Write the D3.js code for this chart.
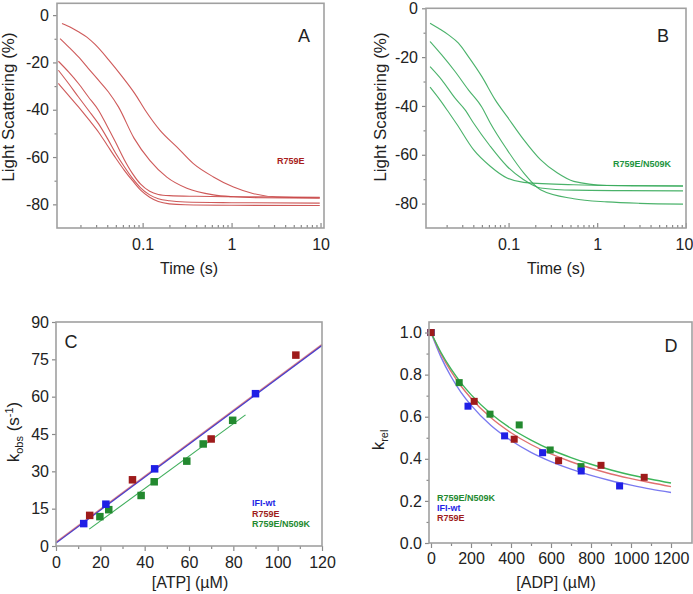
<!DOCTYPE html>
<html>
<head>
    <script src="https://cdn.jsdelivr.net/npm/d3@7"></script>
    <style>
        html, body {
            padding: 0;
            margin: 0;
            background: #fff;
        }
        text {
            font-family: "Liberation Sans", Arial, sans-serif;
        }
    </style>
</head>
<body>
<script>
    var width = 693, height = 594;

    // ---- data: panel A, light scattering traces of R759E (time s, %) ----
    var traceA1 = [[0.0124,-3.5],[0.016,-5.4],[0.019,-7],[0.0236,-9.3],[0.0292,-12.4],[0.0413,-18.8],[0.0583,-25.8],[0.0824,-33.4],[0.107,-40.2],[0.157,-48.7],[0.242,-55.7],[0.372,-62.8],[0.625,-68.4],[1.05,-72.7],[1.77,-75.5],[3.2,-76.9],[9.8,-77.2]];
    var traceA2 = [[0.0118,-9.9],[0.0147,-13.4],[0.019,-17.7],[0.0246,-22.6],[0.0319,-27.5],[0.0413,-32.5],[0.0535,-38.8],[0.08,-52],[0.121,-61.5],[0.187,-68.5],[0.314,-73.2],[0.625,-76],[1.05,-76.8],[2,-77.2],[9.8,-77.4]];
    var traceA3 = [[0.0113,-19.5],[0.0147,-24],[0.019,-28.9],[0.0246,-34.6],[0.0319,-40.2],[0.04,-47],[0.05,-54],[0.062,-61],[0.077,-67],[0.095,-71.5],[0.12,-74.5],[0.15,-75.8],[0.2,-76.3],[0.4,-76.6],[1,-76.8],[9.8,-77]];
    var traceA4 = [[0.0113,-23.3],[0.0147,-28.9],[0.019,-34.6],[0.0246,-40.2],[0.032,-46],[0.04,-52],[0.05,-58.5],[0.062,-64],[0.077,-69],[0.095,-73],[0.12,-76],[0.15,-77.6],[0.2,-78.5],[0.3,-79],[1,-79.3],[9.8,-79.5]];
    var traceA5 = [[0.0113,-28.9],[0.0147,-33.9],[0.019,-38.8],[0.0246,-44],[0.032,-49.5],[0.04,-55],[0.05,-60.5],[0.062,-65.5],[0.077,-70],[0.095,-74],[0.12,-77],[0.15,-78.8],[0.2,-79.8],[0.3,-80.2],[1,-80.4],[9.8,-80.5]];

    // ---- data: panel B, light scattering traces of R759E/N509K ----
    var traceB1 = [[0.013,-6.1],[0.0162,-8.2],[0.021,-10.9],[0.0272,-14.3],[0.0352,-19.8],[0.05,-28],[0.0707,-37.5],[0.096,-44.3],[0.148,-53.8],[0.229,-62],[0.353,-67.4],[0.544,-70.9],[1.29,-72.6],[3,-72.8],[9.3,-72.9]];
    var traceB2 = [[0.013,-13.6],[0.0176,-19.1],[0.0249,-25.9],[0.0352,-33.4],[0.05,-40.5],[0.0621,-47],[0.096,-57.9],[0.148,-67.4],[0.229,-74.3],[0.544,-78],[1.29,-79.3],[3,-79.9],[9.3,-80.2]];
    var traceB3 = [[0.013,-23.9],[0.0176,-29.3],[0.0249,-36.8],[0.0323,-41.6],[0.0402,-47],[0.0621,-56.5],[0.096,-64.7],[0.148,-70.2],[0.229,-73.6],[0.544,-74.5],[2,-74.7],[9.3,-74.8]];
    var traceB4 = [[0.013,-32.3],[0.0168,-37.5],[0.021,-42.5],[0.0261,-47.5],[0.0402,-57.9],[0.0621,-64.7],[0.096,-69.5],[0.148,-71.3],[0.544,-72.3],[2,-72.6],[9.3,-72.7]];

    var timeTicks = [0.1, 1, 10];
    var timeMinor = [0.02,0.03,0.04,0.05,0.06,0.07,0.08,0.09,0.2,0.3,0.4,0.5,0.6,0.7,0.8,0.9,2,3,4,5,6,7,8,9];
    var scatTicks = [0, -20, -40, -60, -80];
    var scatMinor = [-10, -30, -50, -70];

    // ---- data: panel C, kobs vs [ATP] ----
    var atpWt = [12.5, 22.5, 44.5, 90];
    var kobsWt = [9, 16.8, 31, 61.2];
    var atpR = [15.2, 34.5, 70, 108.2];
    var kobsR = [12.3, 26.6, 43, 76.7];
    var atpRN = [19.8, 23.8, 38.4, 44.3, 59, 66.4, 79.7];
    var kobsRN = [11.8, 14.6, 20.3, 25.8, 34.1, 41, 50.5];
    var fitWt = [[0, 1.2], [120, 80.6]];
    var fitR = [[0, 1.6], [120, 81.1]];
    var fitRN = [[15, 6.8], [85.5, 52.7]];
    var atpTicks = [0, 20, 40, 60, 80, 100, 120];
    var atpMinor = [10, 30, 50, 70, 90, 110];
    var kobsTicks = [0, 15, 30, 45, 60, 75, 90];

    // ---- data: panel D, krel vs [ADP] ----
    var adpWt = [0, 185, 368, 558, 751, 943];
    var krelWt = [1.0, 0.650, 0.509, 0.429, 0.342, 0.271];
    var adpR = [0, 216, 416, 638, 850, 1066];
    var krelR = [1.0, 0.673, 0.493, 0.391, 0.369, 0.312];
    var adpRN = [0, 141, 295, 441, 596, 750];
    var krelRN = [1.0, 0.762, 0.612, 0.561, 0.442, 0.363];
    var curveAdp = [0, 50, 100, 150, 200, 300, 400, 500, 600, 700, 800, 900, 1000, 1100, 1200];
    var curveWt = [1, 0.883, 0.791, 0.716, 0.655, 0.558, 0.487, 0.431, 0.387, 0.351, 0.321, 0.296, 0.275, 0.256, 0.240];
    var curveR = [1, 0.898, 0.815, 0.746, 0.688, 0.595, 0.524, 0.468, 0.423, 0.386, 0.355, 0.328, 0.306, 0.286, 0.268];
    var curveRN = [1, 0.905, 0.827, 0.761, 0.705, 0.614, 0.544, 0.489, 0.443, 0.406, 0.374, 0.347, 0.323, 0.303, 0.285];
    var adpTicks = [0, 200, 400, 600, 800, 1000, 1200];
    var adpMinor = [100, 300, 500, 700, 900, 1100];
    var krelTicks = [0, 0.2, 0.4, 0.6, 0.8, 1.0];
    var krelMinor = [0.1, 0.3, 0.5, 0.7, 0.9];

    var colWt = "#1f1fe6", colR = "#9e1b1b", colRN = "#23892f";

    var svg = d3.select('body').append('svg')
        .attr('width', width)
        .attr('height', height)
        .style('background-color', 'white');

    // draws frame + major/minor ticks for one panel
    function panelAxes(x, y, o) {
        var x0 = x.range()[0], x1 = x.range()[1];
        var y0 = y.range()[0], y1 = y.range()[1];
        var g = svg.append("g");

        var xa = g.append("g").attr("transform", "translate(0," + y0 + ")")
            .call(d3.axisBottom(x).tickValues(o.xTicks).tickFormat(o.xFmt || String)
                .tickSize(o.xIn ? -5 : 5).tickPadding(o.xPad));
        if (o.xMinor) {
            g.append("g").attr("transform", "translate(0," + y0 + ")")
                .call(d3.axisBottom(x).tickValues(o.xMinor).tickFormat("").tickSize(o.xIn ? -3 : 3));
        }
        var ya = g.append("g").attr("transform", "translate(" + x0 + ",0)")
            .call(d3.axisLeft(y).tickValues(o.yTicks).tickFormat(o.yFmt || String)
                .tickSize(4).tickPadding(o.yPad));
        if (o.yMinor) {
            g.append("g").attr("transform", "translate(" + x0 + ",0)")
                .call(d3.axisLeft(y).tickValues(o.yMinor).tickFormat("").tickSize(2.5));
        }
        g.selectAll(".domain").remove();
        g.selectAll(".tick line").attr("stroke", "#8a8a8a").attr("stroke-width", 1.2);
        g.selectAll(".tick text").attr("fill", "#222").style("font-size", "16px")
            .style("font-family", '"Liberation Sans", Arial, sans-serif');

        g.append("rect")
            .attr("x", x0).attr("y", y1)
            .attr("width", x1 - x0).attr("height", y0 - y1)
            .attr("fill", "none")
            .attr("stroke", "#a0a0a0")
            .attr("stroke-width", 1.6);
        return xa;
    }

    function label(x, y, txt, size, rot, color, weight) {
        return svg.append("text")
            .attr("transform", "translate(" + x + "," + y + ")" + (rot ? " rotate(-90)" : ""))
            .attr("text-anchor", "middle")
            .attr("fill", color || "#222")
            .style("font-size", size + "px")
            .style("font-weight", weight || "normal")
            .text(txt);
    }

    function traces(list, x, y, color) {
        var line = d3.line()
            .x(function (d) { return x(d[0]); })
            .y(function (d) { return y(d[1]); })
            .curve(d3.curveMonotoneX);
        list.forEach(function (tr) {
            svg.append("path")
                .datum(tr)
                .attr("d", line)
                .attr("fill", "none")
                .attr("stroke", color)
                .attr("stroke-width", 1.1)
                .attr("stroke-opacity", 0.9);
        });
    }

    function squares(xs, ys, x, y, color, size) {
        svg.append("g").selectAll("rect")
            .data(xs.map(function (v, i) { return [v, ys[i]]; }))
            .join("rect")
            .attr("x", function (d) { return x(d[0]) - size / 2; })
            .attr("y", function (d) { return y(d[1]) - size / 2; })
            .attr("width", size)
            .attr("height", size)
            .attr("fill", color);
    }

    // ================= panel A =================
    var xA = d3.scaleLog().domain([0.0109, 10.94]).range([57, 324]);
    var yA = d3.scaleLinear().domain([-90, 5]).range([228, 3.3]);
    traces([traceA1, traceA2, traceA3, traceA4, traceA5], xA, yA, "#c94747");
    panelAxes(xA, yA, {xTicks: timeTicks, xMinor: timeMinor, xIn: true, xPad: 11,
        yTicks: scatTicks, yMinor: scatMinor, yPad: 4});
    label(8.5, 107, "Light Scattering (%)", 17, true).attr("dominant-baseline", "central");
    label(189, 274, "Time (s)", 16);
    label(304, 42, "A", 18);
    svg.append("text").attr("x", 277).attr("y", 164).attr("fill", "#a81c1c")
        .style("font-size", "9px").style("font-weight", "bold").text("R759E");

    // ================= panel B =================
    var xB = d3.scaleLog().domain([0.0117, 10.05]).range([426, 686]);
    var yB = d3.scaleLinear().domain([-90, 0]).range([228, 8.3]);
    traces([traceB1, traceB2, traceB3, traceB4], xB, yB, "#36aa5a");
    var xaB = panelAxes(xB, yB, {xTicks: timeTicks, xMinor: timeMinor, xIn: true, xPad: 11,
        yTicks: scatTicks, yMinor: scatMinor, yPad: 4});
    // last label sits at the page edge: keep it inside
    xaB.selectAll(".tick text").filter(function (d) { return d === 10; })
        .attr("text-anchor", "end").attr("x", 7);
    label(380, 107, "Light Scattering (%)", 17, true).attr("dominant-baseline", "central");
    label(556, 274, "Time (s)", 16);
    label(663, 42, "B", 18);
    svg.append("text").attr("x", 613).attr("y", 167).attr("fill", "#1e9440")
        .style("font-size", "9px").style("font-weight", "bold").text("R759E/N509K");

    // ================= panel C =================
    var xC = d3.scaleLinear().domain([0, 120]).range([56, 322]);
    var yC = d3.scaleLinear().domain([0, 90]).range([546, 322]);
    var fitLine = d3.line()
        .x(function (d) { return xC(d[0]); })
        .y(function (d) { return yC(d[1]); });
    svg.append("path").datum(fitWt).attr("d", fitLine).attr("fill", "none")
        .attr("stroke", "#4040d8").attr("stroke-width", 1.4);
    svg.append("path").datum(fitR).attr("d", fitLine).attr("fill", "none")
        .attr("stroke", "#c04050").attr("stroke-width", 1.2).attr("stroke-opacity", 0.6);
    svg.append("path").datum(fitRN).attr("d", fitLine).attr("fill", "none")
        .attr("stroke", "#3fae5c").attr("stroke-width", 1.1);
    squares(atpRN, kobsRN, xC, yC, colRN, 7.5);
    squares(atpWt, kobsWt, xC, yC, colWt, 7.5);
    squares(atpR, kobsR, xC, yC, colR, 7.5);
    panelAxes(xC, yC, {xTicks: atpTicks, xMinor: atpMinor, xIn: false, xPad: 6,
        yTicks: kobsTicks, yPad: 3});
    var kobs = svg.append("text")
        .attr("transform", "translate(19,432) rotate(-90)")
        .attr("text-anchor", "middle")
        .attr("fill", "#222")
        .style("font-size", "17px");
    kobs.append("tspan").text("k");
    kobs.append("tspan").attr("dy", 4).style("font-size", "11px").text("obs");
    kobs.append("tspan").attr("dy", -4).text(" (s");
    kobs.append("tspan").attr("dy", -6).style("font-size", "11px").text("-1");
    kobs.append("tspan").attr("dy", 6).text(")");
    label(190, 588, "[ATP] (\u00b5M)", 16);
    label(71, 348, "C", 18);
    svg.append("text").attr("x", 252).attr("y", 506).attr("fill", colWt)
        .style("font-size", "9px").style("font-weight", "bold").text("IFI-wt");
    svg.append("text").attr("x", 252).attr("y", 516.5).attr("fill", colR)
        .style("font-size", "9px").style("font-weight", "bold").text("R759E");
    svg.append("text").attr("x", 252).attr("y", 527).attr("fill", colRN)
        .style("font-size", "9px").style("font-weight", "bold").text("R759E/N509K");

    // ================= panel D =================
    var xD = d3.scaleLinear().domain([-10, 1305]).range([429, 692]);
    var yD = d3.scaleLinear().domain([0, 1.05]).range([543, 322]);
    var fitCurve = d3.line()
        .x(function (d) { return xD(d[0]); })
        .y(function (d) { return yD(d[1]); })
        .curve(d3.curveMonotoneX);
    function pairs(xs, ys) { return xs.map(function (v, i) { return [v, ys[i]]; }); }
    svg.append("path").datum(pairs(curveAdp, curveWt)).attr("d", fitCurve).attr("fill", "none")
        .attr("stroke", "#7a7af0").attr("stroke-width", 1.4);
    svg.append("path").datum(pairs(curveAdp, curveR)).attr("d", fitCurve).attr("fill", "none")
        .attr("stroke", "#e07070").attr("stroke-width", 1.4);
    svg.append("path").datum(pairs(curveAdp, curveRN)).attr("d", fitCurve).attr("fill", "none")
        .attr("stroke", "#3cb55a").attr("stroke-width", 1.4);
    squares(adpRN, krelRN, xD, yD, colRN, 7);
    squares(adpWt, krelWt, xD, yD, colWt, 7);
    squares(adpR, krelR, xD, yD, colR, 7);
    panelAxes(xD, yD, {xTicks: adpTicks, xMinor: adpMinor, xIn: false, xPad: 5,
        yTicks: krelTicks, yMinor: krelMinor, yFmt: d3.format(".1f"), yPad: 3});
    var krel = svg.append("text")
        .attr("transform", "translate(384,440) rotate(-90)")
        .attr("text-anchor", "middle")
        .attr("fill", "#222")
        .style("font-size", "17px");
    krel.append("tspan").text("k");
    krel.append("tspan").attr("dy", 4).style("font-size", "11px").text("rel");
    label(556, 588, "[ADP] (\u00b5M)", 16);
    label(671, 352, "D", 18);
    svg.append("text").attr("x", 437).attr("y", 501).attr("fill", colRN)
        .style("font-size", "9px").style("font-weight", "bold").text("R759E/N509K");
    svg.append("text").attr("x", 437).attr("y", 511).attr("fill", colWt)
        .style("font-size", "9px").style("font-weight", "bold").text("IFI-wt");
    svg.append("text").attr("x", 437).attr("y", 521).attr("fill", colR)
        .style("font-size", "9px").style("font-weight", "bold").text("R759E");
</script>
</body>
</html>
